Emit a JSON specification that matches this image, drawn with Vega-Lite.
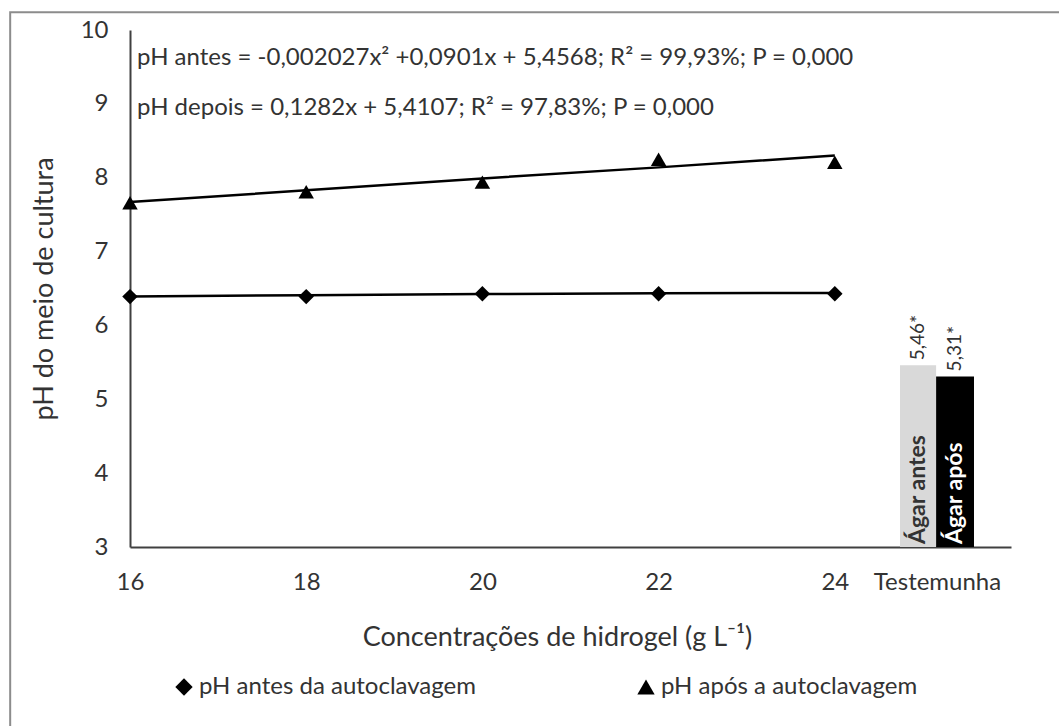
{
  "$schema": "https://vega.github.io/schema/vega-lite/v6.json",
  "width": 881,
  "height": 517,
  "autosize": {"type": "none"},
  "padding": {"left": 130, "top": 30, "right": 48, "bottom": 179},
  "background": "white",
  "config": {
    "view": {"stroke": null},
    "font": "Lato",
    "text": {"font": "Lato", "color": "#333333"},
    "axis": {"labelFont": "Lato", "titleFont": "Lato", "labelColor": "#333333", "titleColor": "#333333"},
    "legend": {"labelFont": "Lato", "labelColor": "#333333"}
  },
  "datasets": {
    "obs": [
      {"conc": 16, "serie": "pH antes da autoclavagem", "ph": 6.39},
      {"conc": 18, "serie": "pH antes da autoclavagem", "ph": 6.39},
      {"conc": 20, "serie": "pH antes da autoclavagem", "ph": 6.43},
      {"conc": 22, "serie": "pH antes da autoclavagem", "ph": 6.43},
      {"conc": 24, "serie": "pH antes da autoclavagem", "ph": 6.43},
      {"conc": 16, "serie": "pH após a autoclavagem", "ph": 7.66},
      {"conc": 18, "serie": "pH após a autoclavagem", "ph": 7.81},
      {"conc": 20, "serie": "pH após a autoclavagem", "ph": 7.94},
      {"conc": 22, "serie": "pH após a autoclavagem", "ph": 8.25},
      {"conc": 24, "serie": "pH após a autoclavagem", "ph": 8.21}
    ],
    "fit": [
      {"conc": 16, "serie": "antes", "ph": 6.39},
      {"conc": 18, "serie": "antes", "ph": 6.41},
      {"conc": 20, "serie": "antes", "ph": 6.425},
      {"conc": 22, "serie": "antes", "ph": 6.435},
      {"conc": 24, "serie": "antes", "ph": 6.44},
      {"conc": 16, "serie": "depois", "ph": 7.67},
      {"conc": 18, "serie": "depois", "ph": 7.83},
      {"conc": 20, "serie": "depois", "ph": 7.99},
      {"conc": 22, "serie": "depois", "ph": 8.14},
      {"conc": 24, "serie": "depois", "ph": 8.30}
    ],
    "bars": [
      {"grupo": "Ágar antes", "x0": 24.74, "x1": 25.15, "ph": 5.46, "rot": "5,46*"},
      {"grupo": "Ágar após", "x0": 25.15, "x1": 25.58, "ph": 5.31, "rot": "5,31*"}
    ]
  },
  "layer": [
    {
      "data": {"values": [{}]},
      "mark": {"type": "rect", "fill": null, "stroke": "#8c8c8c", "strokeWidth": 2, "clip": false},
      "encoding": {
        "x": {"datum": 14.64, "type": "quantitative", "scale": {"domain": [16, 26], "nice": false, "zero": false}},
        "x2": {"datum": 30},
        "y": {"datum": 10.24, "type": "quantitative", "scale": {"domain": [3, 10], "nice": false, "zero": false}},
        "y2": {"datum": -10}
      }
    },
    {
      "data": {"name": "bars"},
      "mark": {"type": "rect"},
      "encoding": {
        "x": {"field": "x0", "type": "quantitative"},
        "x2": {"field": "x1"},
        "y": {"field": "ph", "type": "quantitative"},
        "y2": {"datum": 3},
        "fill": {"field": "grupo", "type": "nominal", "scale": {"domain": ["Ágar antes", "Ágar após"], "range": ["#d9d9d9", "#000000"]}, "legend": null}
      }
    },
    {
      "data": {"name": "bars"},
      "transform": [{"calculate": "(datum.x0 + datum.x1) / 2", "as": "xm"}],
      "mark": {"type": "text", "angle": 270, "align": "left", "baseline": "middle", "fontSize": 23, "fontWeight": "bold", "yOffset": -3},
      "encoding": {
        "x": {"field": "xm", "type": "quantitative"},
        "y": {"datum": 3},
        "text": {"field": "grupo"},
        "color": {"condition": {"test": "datum.grupo === 'Ágar após'", "value": "#ffffff"}, "value": "#333333"}
      }
    },
    {
      "data": {"name": "bars"},
      "transform": [{"calculate": "(datum.x0 + datum.x1) / 2", "as": "xm"}],
      "mark": {"type": "text", "angle": 270, "align": "left", "baseline": "middle", "fontSize": 19, "yOffset": -5},
      "encoding": {
        "x": {"field": "xm", "type": "quantitative"},
        "y": {"field": "ph", "type": "quantitative"},
        "text": {"field": "rot"}
      }
    },
    {
      "data": {"name": "fit"},
      "mark": {"type": "line", "color": "#000000", "strokeWidth": 2.5},
      "encoding": {
        "x": {"field": "conc", "type": "quantitative"},
        "y": {"field": "ph", "type": "quantitative"},
        "detail": {"field": "serie"}
      }
    },
    {
      "data": {"name": "obs"},
      "mark": {"type": "point", "filled": true, "color": "#000000", "opacity": 1, "size": 240},
      "encoding": {
        "x": {
          "field": "conc", "type": "quantitative",
          "axis": {
            "values": [16, 18, 20, 22, 24, 25.16],
            "labelExpr": "datum.value > 25 ? 'Testemunha' : format(datum.value, 'd')",
            "labelFlush": false, "labelOverlap": false,
            "grid": false, "ticks": false, "domainColor": "#404040", "domainWidth": 2,
            "labelFontSize": 24, "labelPadding": 23,
            "title": "Concentrações de hidrogel (g L⁻¹)",
            "titleFontSize": 27, "titleFontWeight": "normal",
            "titleX": 427, "titleY": 90, "titleBaseline": "middle"
          }
        },
        "y": {
          "field": "ph", "type": "quantitative",
          "axis": {
            "values": [3, 4, 5, 6, 7, 8, 9, 10],
            "format": "d", "labelFlush": false, "labelOverlap": false,
            "grid": false, "ticks": false, "domainColor": "#404040", "domainWidth": 2,
            "labelFontSize": 24, "labelPadding": 22,
            "title": "pH do meio de cultura",
            "titleFontSize": 27, "titleFontWeight": "normal",
            "titleX": -86, "titleBaseline": "middle"
          }
        },
        "shape": {
          "field": "serie", "type": "nominal",
          "scale": {"domain": ["pH antes da autoclavagem", "pH após a autoclavagem"], "range": ["diamond", "triangle-up"]},
          "legend": {
            "title": null, "orient": "none", "direction": "horizontal",
            "legendX": 42, "legendY": 645, "padding": 0,
            "labelFontSize": 24, "labelLimit": 500, "symbolSize": 300, "labelOffset": 3,
            "columnPadding": 158,
            "symbolFillColor": "#000000", "symbolStrokeColor": "#000000", "symbolStrokeWidth": 0
          }
        }
      }
    },
    {
      "data": {"values": [{}]},
      "mark": {"type": "text", "align": "left", "baseline": "middle", "fontSize": 24, "text": "pH antes = -0,002027x² +0,0901x + 5,4568; R² = 99,93%; P = 0,000"},
      "encoding": {"x": {"datum": 16.08}, "y": {"datum": 9.62}}
    },
    {
      "data": {"values": [{}]},
      "mark": {"type": "text", "align": "left", "baseline": "middle", "fontSize": 24, "text": "pH depois = 0,1282x + 5,4107; R² = 97,83%; P = 0,000"},
      "encoding": {"x": {"datum": 16.08}, "y": {"datum": 8.95}}
    }
  ]
}
